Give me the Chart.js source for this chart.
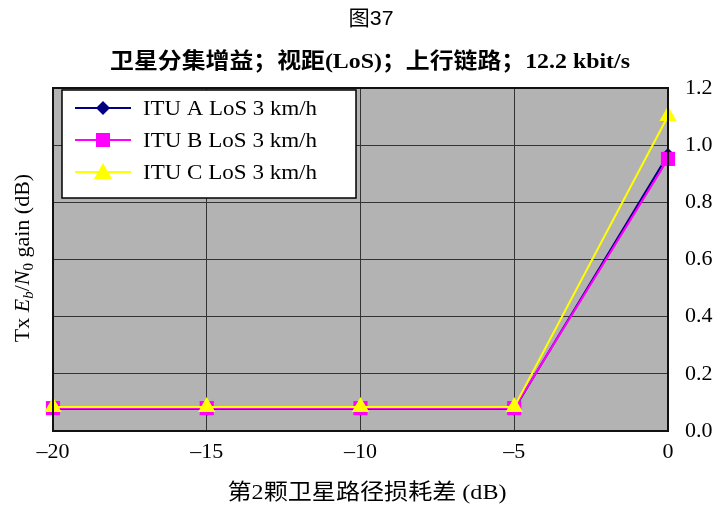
<!DOCTYPE html>
<html>
<head>
<meta charset="utf-8">
<script src="https://cdn.jsdelivr.net/npm/chart.js@4/dist/chart.umd.min.js"></script>
<style>
  html, body { margin: 0; padding: 0; background: #fff; }
  #wrap { width: 720px; height: 508px; }
</style>
</head>
<body>
<div id="wrap"><canvas id="c" width="720" height="508"></canvas></div>
<script>
// Path-loss difference of the second satellite (dB)
const pathLossDiff = [-20, -15, -10, -5, 0];
// Tx Eb/N0 gain (dB) per channel model
const ituA = [0.077, 0.077, 0.077, 0.077, 0.966];
const ituB = [0.080, 0.080, 0.080, 0.080, 0.952];
const ituC = [0.084, 0.084, 0.084, 0.084, 1.102];
const seriesLabels = ['ITU A LoS 3 km/h', 'ITU B LoS 3 km/h', 'ITU C LoS 3 km/h'];
const xTicks = [-20, -15, -10, -5, 0];
const yTicks = [0, 0.2, 0.4, 0.6, 0.8, 1.0, 1.2];

const SERIF = '"Liberation Serif", "Times New Roman", "Noto Sans CJK SC", serif';
const SANS = '"Liberation Sans", "Noto Sans CJK SC", sans-serif';
const toPts = vals => pathLossDiff.map((x, i) => ({ x, y: vals[i] }));

// draw text squeezed/stretched to a given width, centred on x
function fitText(ctx, text, x, y, width) {
  const w = ctx.measureText(text).width;
  ctx.save();
  ctx.translate(x, y);
  ctx.scale(width / w, 1);
  ctx.textAlign = 'center';
  ctx.fillText(text, 0, 0);
  ctx.restore();
}

// grey plot background, frame, titles, legend and the left axis title
const decor = {
  id: 'decor',
  beforeDraw(chart) {
    const { ctx, chartArea: a } = chart;
    ctx.save();
    ctx.fillStyle = '#b3b3b3';
    ctx.fillRect(a.left, a.top, a.right - a.left, a.bottom - a.top);
    ctx.restore();
  },
  afterDatasetsDraw(chart) {
    const { ctx, chartArea: a } = chart;
    ctx.save();
    // plot frame
    ctx.strokeStyle = '#111';
    ctx.lineWidth = 2;
    ctx.strokeRect(a.left, a.top, a.right - a.left, a.bottom - a.top);
    // legend box
    const lx = 62, ly = 90, lw = 294, lh = 108;
    ctx.fillStyle = '#ffffff';
    ctx.fillRect(lx, ly, lw, lh);
    ctx.strokeStyle = '#000';
    ctx.lineWidth = 1.5;
    ctx.strokeRect(lx, ly, lw, lh);
    chart.data.datasets.forEach((ds, i) => {
      const y = 108 + i * 32;
      ctx.strokeStyle = ds.borderColor;
      ctx.lineWidth = 2;
      ctx.beginPath();
      ctx.moveTo(75, y);
      ctx.lineTo(131, y);
      ctx.stroke();
      ctx.fillStyle = ds.backgroundColor;
      ctx.beginPath();
      if (ds.pointStyle === 'rectRot') {
        ctx.moveTo(103, y - 7); ctx.lineTo(110, y); ctx.lineTo(103, y + 7); ctx.lineTo(96, y);
      } else if (ds.pointStyle === 'rect') {
        ctx.rect(96, y - 7, 14, 14);
      } else {
        ctx.moveTo(103, y - 9); ctx.lineTo(112, y + 7); ctx.lineTo(94, y + 7);
      }
      ctx.closePath();
      ctx.fill();
      ctx.fillStyle = '#000';
      ctx.font = '22px ' + SERIF;
      ctx.textBaseline = 'middle';
      const w = ctx.measureText(ds.label).width;
      const target = 174;
      fitText(ctx, ds.label, 143 + target / 2, y + 1, Math.max(w, target));
    });
    ctx.restore();
  },
  afterDraw(chart) {
    const { ctx } = chart;
    ctx.save();
    ctx.fillStyle = '#000';
    ctx.textAlign = 'center';
    ctx.textBaseline = 'middle';
    ctx.font = '21px ' + SANS;
    fitText(ctx, '图37', 371, 19, 45);
    ctx.font = 'bold 22px ' + SERIF;
    fitText(ctx, '卫星分集增益；视距(LoS)；上行链路；12.2 kbit/s', 370, 62, 520);
    ctx.font = '22px ' + SERIF;
    fitText(ctx, '第2颗卫星路径损耗差 (dB)', 367, 493, 279);

    // rotated y-axis title: Tx E_b/N_0 gain (dB)
    ctx.translate(23, 258);
    ctx.rotate(-Math.PI / 2);
    const parts = [
      { t: 'Tx ', f: '22px ' + SERIF, dy: 0 },
      { t: 'E', f: 'italic 22px ' + SERIF, dy: 0 },
      { t: 'b', f: 'italic 15px ' + SERIF, dy: 6 },
      { t: '/', f: '22px ' + SERIF, dy: 0 },
      { t: 'N', f: 'italic 22px ' + SERIF, dy: 0 },
      { t: '0', f: '15px ' + SERIF, dy: 6 },
      { t: ' gain (dB)', f: '22px ' + SERIF, dy: 0 }
    ];
    let total = 0;
    parts.forEach(p => { ctx.font = p.f; p.w = ctx.measureText(p.t).width; total += p.w; });
    let x = -total / 2;
    ctx.textAlign = 'left';
    parts.forEach(p => { ctx.font = p.f; ctx.fillText(p.t, x, p.dy); x += p.w; });
    ctx.restore();
  }
};

new Chart(document.getElementById('c'), {
  type: 'line',
  data: {
    datasets: [
      {
        label: seriesLabels[0], data: toPts(ituA), order: 3, clip: false,
        borderColor: '#000080', backgroundColor: '#000080',
        pointStyle: 'rectRot', pointRadius: 7, borderWidth: 2, pointBorderWidth: 0
      },
      {
        label: seriesLabels[1], data: toPts(ituB), order: 2, clip: false,
        borderColor: '#ff00ff', backgroundColor: '#ff00ff',
        pointStyle: 'rect', pointRadius: 10, borderWidth: 2, pointBorderWidth: 0
      },
      {
        label: seriesLabels[2], data: toPts(ituC), order: 1, clip: false,
        borderColor: '#ffff00', backgroundColor: '#ffff00',
        pointStyle: 'triangle', pointRadius: 10, borderWidth: 2, pointBorderWidth: 0
      }
    ]
  },
  options: {
    responsive: false,
    animation: false,
    events: [],
    layout: { padding: { top: 88, left: 53, right: 0, bottom: 0 } },
    plugins: { legend: { display: false }, title: { display: false }, tooltip: { enabled: false } },
    scales: {
      x: {
        type: 'linear', min: -20, max: 0,
        afterBuildTicks: s => { s.ticks = xTicks.map(v => ({ value: v })); },
        afterFit: s => { s.height = 77; },
        grid: { color: '#333', lineWidth: 1, drawTicks: false },
        border: { display: false },
        ticks: {
          padding: 8, color: '#000', font: { family: SERIF, size: 22 },
          callback: v => (v < 0 ? '\u2013' + Math.abs(v) : String(v))
        }
      },
      y: {
        type: 'linear', position: 'right', min: 0, max: 1.2,
        afterBuildTicks: s => { s.ticks = yTicks.map(v => ({ value: v })); },
        afterFit: s => { s.width = 52; },
        grid: { color: '#333', lineWidth: 1, drawTicks: false },
        border: { display: false },
        ticks: {
          padding: 17, color: '#000', font: { family: SERIF, size: 22 },
          callback: v => v.toFixed(1)
        }
      }
    }
  },
  plugins: [decor]
});
</script>
</body>
</html>
